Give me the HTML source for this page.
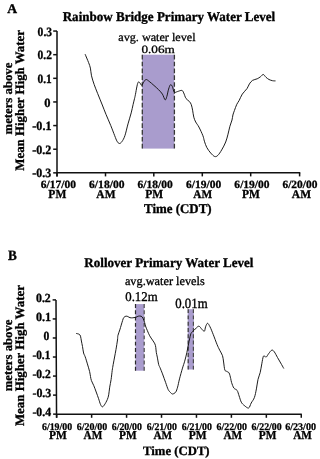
<!DOCTYPE html>
<html><head><meta charset="utf-8"><style>
html,body{margin:0;padding:0;background:#fff;width:318px;height:459px;overflow:hidden}
svg{display:block;will-change:transform}
text{text-rendering:geometricPrecision}
.b{font-family:"Liberation Serif",serif;font-weight:bold;fill:#000;stroke:#000;stroke-width:0.3}
.r{font-family:"Liberation Serif",serif;fill:#000;stroke:#000;stroke-width:0.3}
</style></head><body>
<svg width="318" height="459" viewBox="0 0 318 459">
<rect x="142.1" y="54.7" width="32.2" height="93.9" fill="#a99ccd"/>
<path d="M142.3,54.8 V148.6 M174.4,54.8 V148.6" stroke="#383838" stroke-width="1.3" stroke-dasharray="4.7,2.14"/>
<path d="M57.0,31.05 V176.4 M56.25,172.85 H300.3" stroke="#111" stroke-width="1.5" fill="none"/>
<path d="M53.2,31.05 H57.0" stroke="#111" stroke-width="1.5"/>
<path d="M53.2,54.68 H57.0" stroke="#111" stroke-width="1.5"/>
<path d="M53.2,78.32 H57.0" stroke="#111" stroke-width="1.5"/>
<path d="M53.2,101.95 H57.0" stroke="#111" stroke-width="1.5"/>
<path d="M53.2,125.58 H57.0" stroke="#111" stroke-width="1.5"/>
<path d="M53.2,149.22 H57.0" stroke="#111" stroke-width="1.5"/>
<path d="M53.2,172.85 H57.0" stroke="#111" stroke-width="1.5"/>
<path d="M57.0,172.85 V176.4" stroke="#111" stroke-width="1.5"/>
<path d="M105.5,172.85 V176.4" stroke="#111" stroke-width="1.5"/>
<path d="M153.8,172.85 V176.4" stroke="#111" stroke-width="1.5"/>
<path d="M202.3,172.85 V176.4" stroke="#111" stroke-width="1.5"/>
<path d="M250.7,172.85 V176.4" stroke="#111" stroke-width="1.5"/>
<path d="M299.6,172.85 V176.4" stroke="#111" stroke-width="1.5"/>
<path d="M85.10,54.20 C85.68,55.60 87.72,60.28 88.60,62.60 C89.48,64.92 89.92,65.90 90.40,68.10 C90.88,70.30 90.87,73.05 91.50,75.80 C92.13,78.55 93.18,81.67 94.20,84.60 C95.22,87.53 96.25,90.00 97.60,93.40 C98.95,96.80 100.90,101.50 102.30,105.00 C103.70,108.50 104.60,111.00 106.00,114.40 C107.40,117.80 109.25,121.85 110.70,125.40 C112.15,128.95 113.65,133.07 114.70,135.70 C115.75,138.33 116.22,139.90 117.00,141.20 C117.78,142.50 118.57,143.45 119.40,143.50 C120.23,143.55 121.08,142.80 122.00,141.50 C122.92,140.20 123.90,138.63 124.90,135.70 C125.90,132.77 126.95,127.70 128.00,123.90 C129.05,120.10 130.35,116.13 131.20,112.90 C132.05,109.67 132.53,106.93 133.10,104.50 C133.67,102.07 134.22,99.93 134.60,98.30 C134.98,96.67 135.00,96.73 135.40,94.70 C135.80,92.67 136.53,88.18 137.00,86.10 C137.47,84.02 137.75,82.78 138.20,82.20 C138.65,81.62 139.12,82.08 139.70,82.60 C140.28,83.12 141.05,85.37 141.70,85.30 C142.35,85.23 142.88,83.17 143.60,82.20 C144.32,81.23 145.07,79.63 146.00,79.50 C146.93,79.37 147.88,80.42 149.20,81.40 C150.52,82.38 152.33,84.02 153.90,85.40 C155.47,86.78 157.18,88.25 158.60,89.70 C160.02,91.15 161.32,92.42 162.40,94.10 C163.48,95.78 164.37,99.38 165.10,99.80 C165.83,100.22 166.22,98.38 166.80,96.60 C167.38,94.82 167.98,91.08 168.60,89.10 C169.22,87.12 169.87,85.12 170.50,84.70 C171.13,84.28 171.77,85.35 172.40,86.60 C173.03,87.85 173.47,91.37 174.30,92.20 C175.13,93.03 176.15,91.90 177.40,91.60 C178.65,91.30 180.75,90.18 181.80,90.40 C182.85,90.62 183.00,91.55 183.70,92.90 C184.40,94.25 185.05,97.07 186.00,98.50 C186.95,99.93 188.52,100.47 189.40,101.50 C190.28,102.53 190.77,103.25 191.30,104.70 C191.83,106.15 192.18,108.12 192.60,110.20 C193.02,112.28 193.28,115.23 193.80,117.20 C194.32,119.17 194.85,120.37 195.70,122.00 C196.55,123.63 197.70,124.72 198.90,127.00 C200.10,129.28 201.98,133.33 202.90,135.70 C203.82,138.07 203.75,139.23 204.40,141.20 C205.05,143.17 205.75,145.53 206.80,147.50 C207.85,149.47 209.38,151.50 210.70,153.00 C212.02,154.50 213.52,156.10 214.70,156.50 C215.88,156.90 216.63,156.50 217.80,155.40 C218.97,154.30 220.38,152.13 221.70,149.90 C223.02,147.67 224.65,144.62 225.70,142.00 C226.75,139.38 227.30,136.82 228.00,134.20 C228.70,131.58 229.23,128.67 229.90,126.30 C230.57,123.93 231.50,121.88 232.00,120.00 C232.50,118.12 232.50,116.57 232.90,115.00 C233.30,113.43 233.75,112.38 234.40,110.60 C235.05,108.82 236.00,106.00 236.80,104.30 C237.60,102.60 238.28,102.10 239.20,100.40 C240.12,98.70 241.00,96.07 242.30,94.10 C243.60,92.13 245.82,90.30 247.00,88.60 C248.18,86.90 248.48,85.27 249.40,83.90 C250.32,82.53 251.20,81.25 252.50,80.40 C253.80,79.55 255.88,79.40 257.20,78.80 C258.52,78.20 259.38,77.52 260.40,76.80 C261.42,76.08 262.37,74.42 263.30,74.50 C264.23,74.58 265.05,76.47 266.00,77.30 C266.95,78.13 267.92,78.93 269.00,79.50 C270.08,80.07 271.42,80.47 272.50,80.70 C273.58,80.93 275.00,80.87 275.50,80.90" stroke="#111" stroke-width="0.95" fill="none" stroke-linejoin="round"/>
<rect x="135.5" y="304.1" width="8.7" height="66.6" fill="#a99ccd"/>
<path d="M135.5,304.1 V370.7" stroke="#2a2a2a" stroke-width="1.2" stroke-dasharray="3.9,2.37"/>
<path d="M144.2,304.1 V370.7" stroke="#555" stroke-width="1.3" stroke-dasharray="3.9,2.37"/>
<rect x="187.7" y="309.2" width="6.2" height="60.3" fill="#a99ccd"/>
<path d="M188.2,309.2 V369.5" stroke="#3a3a3a" stroke-width="1.2" stroke-dasharray="3.9,2.37"/>
<path d="M193.4,309.2 V369.5" stroke="#4a4a4a" stroke-width="1.2" stroke-dasharray="3.9,2.37"/>
<path d="M56.0,299.9 L56.55,417.8 M55.78,414.15 H301.8" stroke="#111" stroke-width="1.5" fill="none"/>
<path d="M52.60,299.90 H56.00" stroke="#111" stroke-width="1.5"/>
<path d="M52.69,318.94 H56.09" stroke="#111" stroke-width="1.5"/>
<path d="M52.78,337.98 H56.18" stroke="#111" stroke-width="1.5"/>
<path d="M52.87,357.02 H56.27" stroke="#111" stroke-width="1.5"/>
<path d="M52.96,376.07 H56.36" stroke="#111" stroke-width="1.5"/>
<path d="M53.04,395.11 H56.44" stroke="#111" stroke-width="1.5"/>
<path d="M53.13,414.15 H56.53" stroke="#111" stroke-width="1.5"/>
<path d="M56.70,414.15 V417.8" stroke="#111" stroke-width="1.5"/>
<path d="M91.64,414.15 V417.8" stroke="#111" stroke-width="1.5"/>
<path d="M126.58,414.15 V417.8" stroke="#111" stroke-width="1.5"/>
<path d="M161.52,414.15 V417.8" stroke="#111" stroke-width="1.5"/>
<path d="M196.46,414.15 V417.8" stroke="#111" stroke-width="1.5"/>
<path d="M231.40,414.15 V417.8" stroke="#111" stroke-width="1.5"/>
<path d="M266.34,414.15 V417.8" stroke="#111" stroke-width="1.5"/>
<path d="M301.28,414.15 V417.8" stroke="#111" stroke-width="1.5"/>
<path d="M76.00,333.40 C76.53,333.55 78.45,333.83 79.20,334.30 C79.95,334.77 80.13,335.08 80.50,336.20 C80.87,337.32 81.07,339.28 81.40,341.00 C81.73,342.72 82.13,344.50 82.50,346.50 C82.87,348.50 83.15,351.28 83.60,353.00 C84.05,354.72 84.57,354.98 85.20,356.80 C85.83,358.62 86.67,361.45 87.40,363.90 C88.13,366.35 89.08,369.40 89.60,371.50 C90.12,373.60 90.20,375.00 90.50,376.50 C90.80,378.00 90.85,378.97 91.40,380.50 C91.95,382.03 93.00,383.78 93.80,385.70 C94.60,387.62 95.40,389.83 96.20,392.00 C97.00,394.17 97.88,396.63 98.60,398.70 C99.32,400.77 99.88,403.05 100.50,404.40 C101.12,405.75 101.65,406.72 102.30,406.80 C102.95,406.88 103.57,406.10 104.40,404.90 C105.23,403.70 106.58,401.28 107.30,399.60 C108.02,397.92 108.30,396.87 108.70,394.80 C109.10,392.73 109.30,389.75 109.70,387.20 C110.10,384.65 110.68,382.28 111.10,379.50 C111.52,376.72 111.85,373.00 112.20,370.50 C112.55,368.00 112.80,366.75 113.20,364.50 C113.60,362.25 114.13,359.52 114.60,357.00 C115.07,354.48 115.52,352.23 116.00,349.40 C116.48,346.57 117.18,342.30 117.50,340.00 C117.82,337.70 117.52,337.28 117.90,335.60 C118.28,333.92 119.25,331.63 119.80,329.90 C120.35,328.17 120.73,326.77 121.20,325.20 C121.67,323.63 122.17,321.78 122.60,320.50 C123.03,319.22 123.25,318.22 123.80,317.50 C124.35,316.78 125.23,316.37 125.90,316.20 C126.57,316.03 127.12,316.25 127.80,316.50 C128.48,316.75 129.17,317.48 130.00,317.70 C130.83,317.92 131.82,317.87 132.80,317.80 C133.78,317.73 134.98,317.57 135.90,317.30 C136.82,317.03 137.43,316.38 138.30,316.20 C139.17,316.02 140.32,315.85 141.10,316.20 C141.88,316.55 142.42,317.25 143.00,318.30 C143.58,319.35 144.18,321.22 144.60,322.50 C145.02,323.78 145.03,324.63 145.50,326.00 C145.97,327.37 146.70,329.07 147.40,330.70 C148.10,332.33 148.85,334.23 149.70,335.80 C150.55,337.37 151.63,338.75 152.50,340.10 C153.37,341.45 154.35,342.65 154.90,343.90 C155.45,345.15 155.57,346.18 155.80,347.60 C156.03,349.02 156.05,350.82 156.30,352.40 C156.55,353.98 156.90,355.07 157.30,357.10 C157.70,359.13 158.25,362.85 158.70,364.60 C159.15,366.35 159.37,366.05 160.00,367.60 C160.63,369.15 161.55,371.38 162.50,373.90 C163.45,376.42 164.75,380.08 165.70,382.70 C166.65,385.32 167.37,387.93 168.20,389.60 C169.03,391.27 169.97,391.97 170.70,392.70 C171.43,393.43 171.77,394.10 172.60,394.00 C173.43,393.90 174.87,393.25 175.70,392.10 C176.53,390.95 176.97,389.30 177.60,387.10 C178.23,384.90 178.68,382.07 179.50,378.90 C180.32,375.73 181.63,371.05 182.50,368.10 C183.37,365.15 183.97,363.82 184.70,361.20 C185.43,358.58 186.25,355.32 186.90,352.40 C187.55,349.48 188.00,346.60 188.60,343.70 C189.20,340.80 190.00,336.85 190.50,335.00 C191.00,333.15 190.97,333.43 191.60,332.60 C192.23,331.77 193.12,331.07 194.30,330.00 C195.48,328.93 197.43,326.32 198.70,326.20 C199.97,326.08 200.95,328.47 201.90,329.30 C202.85,330.13 203.78,331.62 204.40,331.20 C205.02,330.78 205.08,328.12 205.60,326.80 C206.12,325.48 206.77,323.30 207.50,323.30 C208.23,323.30 209.05,324.95 210.00,326.80 C210.95,328.65 212.03,331.47 213.20,334.40 C214.37,337.33 215.92,341.77 217.00,344.40 C218.08,347.03 218.78,348.32 219.70,350.20 C220.62,352.08 221.85,353.73 222.50,355.70 C223.15,357.67 223.22,359.63 223.60,362.00 C223.98,364.37 224.28,368.33 224.80,369.90 C225.32,371.47 225.98,370.88 226.70,371.40 C227.42,371.92 228.43,371.82 229.10,373.00 C229.77,374.18 230.28,376.90 230.70,378.50 C231.12,380.10 231.07,381.00 231.60,382.60 C232.13,384.20 232.98,386.80 233.90,388.10 C234.82,389.40 236.23,389.10 237.10,390.40 C237.97,391.70 238.40,393.93 239.10,395.90 C239.80,397.87 240.45,400.62 241.30,402.20 C242.15,403.78 242.98,404.43 244.20,405.40 C245.42,406.37 247.43,408.40 248.60,408.00 C249.77,407.60 250.23,404.75 251.20,403.00 C252.17,401.25 253.53,399.85 254.40,397.50 C255.27,395.15 255.80,391.92 256.40,388.90 C257.00,385.88 257.37,382.13 258.00,379.40 C258.63,376.67 259.57,375.10 260.20,372.50 C260.83,369.90 261.28,366.47 261.80,363.80 C262.32,361.13 262.80,357.75 263.30,356.50 C263.80,355.25 264.30,356.22 264.80,356.30 C265.30,356.38 265.62,357.50 266.30,357.00 C266.98,356.50 267.97,354.45 268.90,353.30 C269.83,352.15 270.98,350.32 271.90,350.10 C272.82,349.88 273.47,350.77 274.40,352.00 C275.33,353.23 276.45,355.67 277.50,357.50 C278.55,359.33 279.65,361.17 280.70,363.00 C281.75,364.83 283.28,367.58 283.80,368.50" stroke="#111" stroke-width="0.95" fill="none" stroke-linejoin="round"/>
<text class="b" font-size="12" transform="translate(7.16,12.55) scale(1.1373,1.1141)">A</text>
<text class="b" font-size="12" transform="translate(62.70,20.61) scale(1.0867,1.1111)">Rainbow Bridge Primary Water Level</text>
<text class="b" font-size="12" transform="translate(12.39,134.47) scale(1.0345,1.0625) rotate(-90)">meters above</text>
<text class="b" font-size="12" transform="translate(24.04,170.66) scale(1.0756,1.0718) rotate(-90)">Mean Higher High Water</text>
<text class="r" font-size="12" transform="translate(118.25,41.16) scale(1.0138,0.9778)">avg. water level</text>
<text class="r" font-size="12" transform="translate(141.40,52.96) scale(1.1009,0.9278)">0.06m</text>
<text class="b" font-size="12" transform="translate(37.61,35.78) scale(0.9652,1.0606)">0.3</text>
<text class="b" font-size="12" transform="translate(37.61,59.32) scale(0.9581,1.0606)">0.2</text>
<text class="b" font-size="12" transform="translate(37.62,82.85) scale(0.9440,1.0606)">0.1</text>
<text class="b" font-size="12" transform="translate(44.29,106.64) scale(1.0387,1.0606)">0</text>
<text class="b" font-size="12" transform="translate(32.30,130.17) scale(1.0082,1.0606)">-0.1</text>
<text class="b" font-size="12" transform="translate(32.30,153.96) scale(1.0056,1.0606)">-0.2</text>
<text class="b" font-size="12" transform="translate(32.30,177.48) scale(0.9975,1.0606)">-0.3</text>
<text class="b" font-size="12" transform="translate(40.67,187.77) scale(0.9611,0.9278)">6/17/00</text>
<text class="b" font-size="12" transform="translate(48.35,198.41) scale(0.9623,1.0192)">PM</text>
<text class="b" font-size="12" transform="translate(89.06,187.77) scale(0.9681,0.9278)">6/18/00</text>
<text class="b" font-size="12" transform="translate(96.34,198.41) scale(0.9578,0.9901)">AM</text>
<text class="b" font-size="12" transform="translate(137.51,187.77) scale(0.9611,0.9278)">6/18/00</text>
<text class="b" font-size="12" transform="translate(145.20,198.41) scale(0.9623,1.0192)">PM</text>
<text class="b" font-size="12" transform="translate(186.01,187.77) scale(0.9611,0.9278)">6/19/00</text>
<text class="b" font-size="12" transform="translate(193.30,198.41) scale(0.9444,0.9901)">AM</text>
<text class="b" font-size="12" transform="translate(234.36,187.77) scale(0.9611,0.9278)">6/19/00</text>
<text class="b" font-size="12" transform="translate(242.05,198.41) scale(0.9623,1.0192)">PM</text>
<text class="b" font-size="12" transform="translate(282.46,187.77) scale(0.9548,0.9278)">6/20/00</text>
<text class="b" font-size="12" transform="translate(291.84,198.41) scale(0.9578,0.9901)">AM</text>
<text class="b" font-size="12" transform="translate(144.00,212.78) scale(1.0763,1.1111)">Time (CDT)</text>
<text class="b" font-size="12" transform="translate(8.00,259.53) scale(1.0968,1.1944)">B</text>
<text class="b" font-size="12" transform="translate(84.34,266.63) scale(1.0862,1.1023)">Rollover Primary Water Level</text>
<text class="b" font-size="12" transform="translate(12.39,391.27) scale(1.0345,1.0602) rotate(-90)">meters above</text>
<text class="b" font-size="12" transform="translate(24.04,426.11) scale(1.0756,1.0748) rotate(-90)">Mean Higher High Water</text>
<text class="r" font-size="12" transform="translate(124.89,284.91) scale(1.0239,1.0134)">avg.water levels</text>
<text class="r" font-size="12" transform="translate(125.23,301.02) scale(1.0684,1.1031)">0.12m</text>
<text class="r" font-size="12" transform="translate(175.23,307.54) scale(1.0684,1.1761)">0.01m</text>
<text class="b" font-size="12" transform="translate(35.96,301.59) scale(0.9861,1.0366)">0.2</text>
<text class="b" font-size="12" transform="translate(35.95,320.75) scale(1.0072,1.0366)">0.1</text>
<text class="b" font-size="12" transform="translate(43.60,339.67) scale(0.9739,1.0366)">0</text>
<text class="b" font-size="12" transform="translate(32.42,358.84) scale(0.9398,1.0366)">-0.1</text>
<text class="b" font-size="12" transform="translate(32.41,377.76) scale(0.9672,1.0366)">-0.2</text>
<text class="b" font-size="12" transform="translate(32.40,396.93) scale(0.9973,1.0366)">-0.3</text>
<text class="b" font-size="12" transform="translate(32.41,415.84) scale(0.9812,1.0366)">-0.4</text>
<text class="b" font-size="12" transform="translate(41.97,429.65) scale(0.8236,0.8485)">6/19/00</text>
<text class="b" font-size="12" transform="translate(49.05,439.20) scale(0.9570,1.0065)">PM</text>
<text class="b" font-size="12" transform="translate(76.69,429.65) scale(0.8306,0.8485)">6/20/00</text>
<text class="b" font-size="12" transform="translate(83.60,439.20) scale(0.9377,1.0065)">AM</text>
<text class="b" font-size="12" transform="translate(111.72,429.65) scale(0.8236,0.8485)">6/20/00</text>
<text class="b" font-size="12" transform="translate(119.06,439.20) scale(0.9433,1.0065)">PM</text>
<text class="b" font-size="12" transform="translate(146.74,429.65) scale(0.8236,0.8485)">6/21/00</text>
<text class="b" font-size="12" transform="translate(153.38,438.96) scale(0.9367,0.9760)">AM</text>
<text class="b" font-size="12" transform="translate(181.76,429.65) scale(0.8236,0.8485)">6/21/00</text>
<text class="b" font-size="12" transform="translate(188.84,439.20) scale(0.9570,1.0065)">PM</text>
<text class="b" font-size="12" transform="translate(216.48,429.65) scale(0.8306,0.8485)">6/22/00</text>
<text class="b" font-size="12" transform="translate(223.39,439.20) scale(0.9377,1.0065)">AM</text>
<text class="b" font-size="12" transform="translate(251.51,429.65) scale(0.8236,0.8485)">6/22/00</text>
<text class="b" font-size="12" transform="translate(258.85,439.20) scale(0.9433,1.0065)">PM</text>
<text class="b" font-size="12" transform="translate(285.14,429.65) scale(0.8428,0.8485)">6/23/00</text>
<text class="b" font-size="12" transform="translate(293.17,439.20) scale(0.9367,1.0065)">AM</text>
<text class="b" font-size="12" transform="translate(143.05,454.89) scale(1.0602,1.0648)">Time (CDT)</text>
</svg>
</body></html>
